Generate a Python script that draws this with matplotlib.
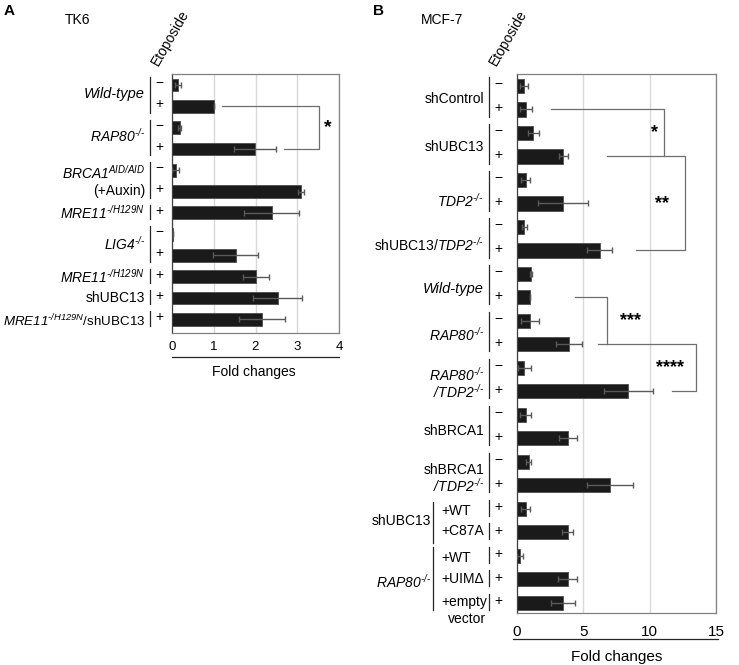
import matplotlib
matplotlib.use("Agg")
import matplotlib.pyplot as plt
import numpy as np

plt.rcParams['font.family'] = ['Liberation Sans', 'DejaVu Sans']
plt.rcParams['mathtext.fontset'] = 'custom'
plt.rcParams['mathtext.rm'] = 'Liberation Sans:italic'
plt.rcParams['mathtext.it'] = 'Liberation Sans:italic'
plt.rcParams['mathtext.bf'] = 'Liberation Sans:bold'

# ---- panel A: TK6 ----
fold_a = [0.14, 1.0, 0.18, 1.99, 0.09, 3.09, 2.39, 0.02, 1.53, 2.01, 2.53, 2.15]
err_a = [0.08, 0.0, 0.03, 0.51, 0.08, 0.07, 0.66, 0.0, 0.54, 0.32, 0.59, 0.55]
drug_a = ['−', '+', '−', '+', '−', '+', '+', '−', '+', '+', '+', '+']
# (label, y position in rows, italic, font size)
labels_a = [
    ('Wild-type', 0.4, True, 10.5),
    (r'$RAP80^{\text{-/-}}$', 2.4, False, 10),
    (r'$BRCA1^{\text{AID/AID}}$', 4.1, False, 10),
    ('(+Auxin)', 4.95, False, 10),
    (r'$MRE11^{\text{-/H129N}}$', 6.0, False, 10),
    (r'$LIG4^{\text{-/-}}$', 7.45, False, 10),
    (r'$MRE11^{\text{-/H129N}}$', 9.0, False, 10),
    ('shUBC13', 10.0, False, 10),
    (r'$MRE11^{\text{-/H129N}}$/shUBC13', 11.1, False, 9.6),
]
spans_a = [(0, 1), (2, 3), (4, 5), (6, 6), (7, 8), (9, 9), (10, 10), (11, 11)]
ticks_a = [0, 1, 2, 3, 4]

# ---- panel B: MCF-7 ----
fold_b = [0.53, 0.68, 1.23, 3.48, 0.65, 3.48, 0.55, 6.22, 1.03, 0.98, 0.98, 3.93,
          0.55, 8.4, 0.65, 3.81, 0.88, 7.0, 0.65, 3.81, 0.23, 3.81, 3.48]
err_b = [0.32, 0.42, 0.4, 0.35, 0.33, 1.88, 0.18, 0.95, 0.07, 0.02, 0.65, 0.97,
         0.5, 1.85, 0.42, 0.68, 0.17, 1.75, 0.33, 0.43, 0.2, 0.75, 0.88]
drug_b = ['−', '+'] * 9 + ['+'] * 5
labels_b = [
    ('shControl', 0.55, False, 10),
    ('shUBC13', 2.58, False, 10),
    (r'$TDP2^{\text{-/-}}$', 4.9, False, 10),
    (r'shUBC13/$TDP2^{\text{-/-}}$', 6.77, False, 10),
    ('Wild-type', 8.64, True, 10.5),
    (r'$RAP80^{\text{-/-}}$', 10.6, False, 10),
    (r'$RAP80^{\text{-/-}}$', 12.3, False, 10),
    (r'$/TDP2^{\text{-/-}}$', 13.0, False, 10),
    ('shBRCA1', 14.67, False, 10),
    ('shBRCA1', 16.34, False, 10),
    (r'$/TDP2^{\text{-/-}}$', 17.0, False, 10),
]
spans_b = [(0, 1), (2, 3), (4, 5), (6, 7), (8, 9), (10, 11), (12, 13), (14, 15),
           (16, 17), (18, 18), (19, 19), (20, 20), (21, 21), (22, 22)]
rescue_groups = [('shUBC13', 18.5, 17.7, 19.45), (r'$RAP80^{\text{-/-}}$', 21.1, 19.6, 22.3)]
rescue_labels = [('+WT', 18.1), ('+C87A', 18.95), ('+WT', 20.1), ('+UIMΔ', 21.0), ('+empty', 21.95)]
ticks_b = [0, 5, 10, 15]

W, H = 739, 665
fig = plt.figure(figsize=(W / 100, H / 100), dpi=100)


def px_axes(l, t, r, b):
    return fig.add_axes([l / W, 1 - b / H, (r - l) / W, (b - t) / H])


def draw_bars(ax, vals, errs, ticks, ylim, tsize):
    y = np.arange(len(vals))
    ax.barh(y, vals, height=0.6, color='#1a1a1a', edgecolor='#4d4d4d', lw=0.6, zorder=2)
    ax.errorbar(vals, y, xerr=errs, fmt='none', ecolor='#5a5a5a', elinewidth=1,
                capsize=2.5, capthick=1, zorder=3)
    ax.set_xlim(ticks[0], ticks[-1])
    ax.set_ylim(*ylim)
    ax.set_xticks(ticks)
    ax.set_yticks([])
    ax.xaxis.grid(True, color='#d9d9d9', lw=1)
    ax.set_axisbelow(True)
    ax.tick_params(axis='x', length=0, labelsize=tsize, pad=6)
    for s in ax.spines.values():
        s.set_color('#808080')
        s.set_linewidth(0.9)
    ax.spines['left'].set_color('#404040')


def txt(ax, x, y, s, **kw):
    kw.setdefault('fontsize', 10)
    kw.setdefault('va', 'center')
    ax.text(x, y, s, transform=ax.get_yaxis_transform(), clip_on=False, **kw)


def vline(ax, x, y0, y1):
    ax.plot([x, x], [y0, y1], transform=ax.get_yaxis_transform(), color='#262626',
            lw=0.9, clip_on=False)


def hline(ax, y, x0, x1):
    ax.plot([x0, x1], [y, y], transform=ax.transAxes, color='#262626', lw=0.9, clip_on=False)


def bracket(ax, y0, y1, xs, xv, xe):
    ax.plot([xs, xv, xv, xe], [y0, y0, y1, y1], color='#6e6e6e', lw=0.9, clip_on=False, zorder=4)


# ---- panel A ----
ax_a = px_axes(172, 74, 339, 333)
draw_bars(ax_a, fold_a, err_a, ticks_a, (11.64, -0.52), 9.5)
for i, s in enumerate(drug_a):
    txt(ax_a, -0.078, i - 0.1, s, ha='center')
for s, yy, it, fs in labels_a:
    txt(ax_a, -0.162, yy, s, ha='right', style='italic' if it else 'normal', fontsize=fs)
for a, b in spans_a:
    vline(ax_a, -0.132, a - 0.38, b + 0.3)
hline(ax_a, -0.093, 0, 1)
ax_a.text(0.49, -0.151, 'Fold changes', transform=ax_a.transAxes, ha='center', va='center', fontsize=10)
bracket(ax_a, 1, 3, 1.2, 3.52, 2.69)
ax_a.text(3.72, 2.0, '*', ha='center', va='center', fontsize=14, fontweight='bold')

# ---- panel B ----
ax_b = px_axes(517, 74, 716, 613)
draw_bars(ax_b, fold_b, err_b, ticks_b, (22.43, -0.51), 11)
ax_b.tick_params(axis='x', pad=9)
for i, s in enumerate(drug_b):
    txt(ax_b, -0.095, i - 0.08, s, ha='center')
for s, yy, it, fs in labels_b:
    txt(ax_b, -0.166, yy, s, ha='right', style='italic' if it else 'normal', fontsize=fs)
for a, b in spans_b:
    vline(ax_b, -0.141, a - 0.38, b + 0.3)
for s, yy, y0, y1 in rescue_groups:
    txt(ax_b, -0.432, yy, s, ha='right')
    vline(ax_b, -0.422, y0, y1)
for s, yy in rescue_labels:
    txt(ax_b, -0.378, yy, s, ha='left')
txt(ax_b, -0.155, 22.7, 'vector', ha='right')
hline(ax_b, -0.048, -0.022, 1.009)
ax_b.text(0.503, -0.081, 'Fold changes', transform=ax_b.transAxes, ha='center', va='center', fontsize=11)
bracket(ax_b, 1, 3, 2.55, 11.1, 11.1)
bracket(ax_b, 3, 7, 6.75, 12.7, 9.0)
bracket(ax_b, 9, 11, 4.4, 6.75, 6.75)
bracket(ax_b, 11, 13, 6.1, 13.5, 11.7)
ax_b.text(10.4, 2.0, '*', ha='center', va='center', fontsize=13, fontweight='bold')
ax_b.text(10.95, 5.0, '**', ha='center', va='center', fontsize=13, fontweight='bold')
ax_b.text(8.55, 10.0, '***', ha='center', va='center', fontsize=13, fontweight='bold')
ax_b.text(11.5, 12.0, '****', ha='center', va='center', fontsize=13, fontweight='bold')

# ---- headers ----
fig.text(4 / W, 1 - 11 / H, 'A', fontsize=11, fontweight='bold', va='center')
fig.text(373 / W, 1 - 11 / H, 'B', fontsize=11, fontweight='bold', va='center')
fig.text(65 / W, 1 - 20 / H, 'TK6', fontsize=10, va='center')
fig.text(421 / W, 1 - 20 / H, 'MCF-7', fontsize=10, va='center')
fig.text(158 / W, 1 - 67 / H, 'Etoposide', fontsize=10, rotation=60,
         rotation_mode='anchor', ha='left', va='baseline')
fig.text(496 / W, 1 - 67 / H, 'Etoposide', fontsize=10, rotation=60,
         rotation_mode='anchor', ha='left', va='baseline')

fig.savefig('out.png', dpi=100)
